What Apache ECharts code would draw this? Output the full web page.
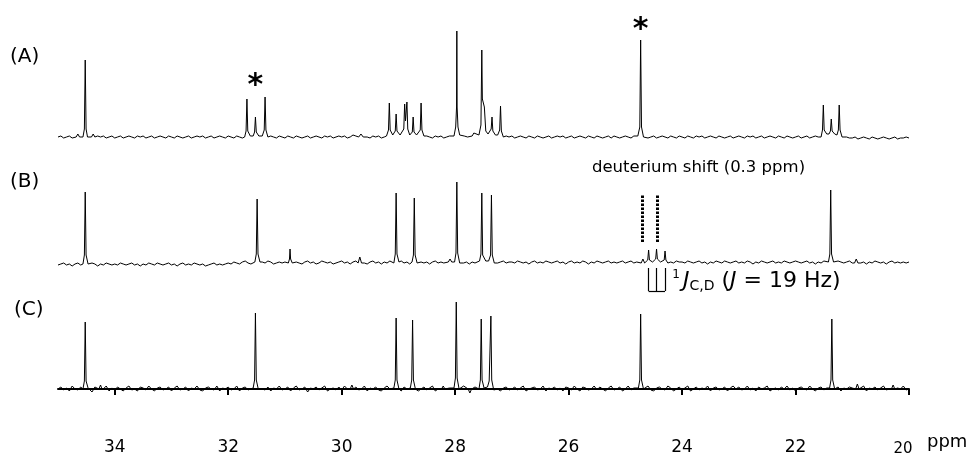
<!DOCTYPE html>
<html><head><meta charset="utf-8">
<script src="https://cdn.jsdelivr.net/npm/echarts@6/dist/echarts.min.js"></script>
<style>html,body{margin:0;padding:0;background:#fff}#c{width:977px;height:464px}</style>
</head><body><div id="c"></div>
<script>
// ---- data ----
const ppmMin = 20, ppmMax = 35;
const xTicks = [34, 32, 30, 28, 26, 24, 22, 20];
const axisUnit = 'ppm';
const noiseStart = 35, noiseStep = 0.05;
// baseline noise (one value every 0.05 ppm from 35 to 20)
const noiseA = [
  0,1,-1,0,1,-1,1,0,2,0,-1,1,0,-1,1,0,1,-1,0,1,
  -1,0,1,-1,0,1,0,-1,1,0,1,-1,0,1,-1,0,1,0,-1,1,
  0,-1,1,0,-1,0,1,-1,0,1,0,1,-1,0,1,-1,0,1,0,-1,
  1,0,-1,1,0,-1,0,1,-1,1,0,2,1,0,-1,1,0,-1,1,0,
  -1,1,0,-1,1,0,-1,0,1,-1,0,1,0,-1,1,0,1,-1,0,1,
  0,1,-1,0,2,1,0,-1,1,0,-1,1,0,1,-1,0,1,0,-1,1,
  0,-1,1,0,1,-1,0,1,-1,0,1,0,-1,1,0,1,-1,0,1,0,
  -1,1,0,-1,0,1,-1,1,0,-1,1,0,1,-1,0,1,0,-1,1,0,
  1,-1,0,1,0,-1,1,0,-1,1,0,-1,0,1,-1,0,1,0,1,-1,
  0,1,-1,0,1,0,-1,1,0,-1,1,0,-1,0,1,-1,1,0,-1,0,
  1,0,-1,1,0,-1,0,1,-1,0,1,-1,0,1,0,-1,1,0,-1,1,
  0,-1,1,0,-1,1,0,1,-1,0,1,0,-1,1,0,-1,0,1,-1,0,
  1,0,-1,1,0,1,-1,0,1,-1,0,1,0,-1,1,0,-1,1,0,-1,
  0,1,-1,0,1,-1,0,1,0,-1,0,-1,1,0,-1,0,1,-1,0,-1,
  -1,0,-2,-1,0,-1,-2,0,-1,-2,-1,0,-1,-2,-1,0,-2,-1,-1,0,
  -1];
const noiseB = [
  -2,-1,0,-2,-1,-3,-1,0,-2,-1,-1,-2,0,-1,-3,-1,-2,0,-1,-2,
  -1,-2,0,-1,-2,-1,0,-2,-1,-3,-1,-2,0,-1,-2,0,-1,-2,-1,0,
  -2,-1,-3,-1,0,-2,-1,-2,0,-1,-2,-1,-3,-2,-1,0,-2,-1,-2,-1,
  0,-1,1,0,-1,1,2,0,-1,1,0,-1,1,0,2,1,-1,0,1,0,
  1,0,2,-1,1,0,-1,1,2,0,1,-1,0,2,1,0,1,-1,0,1,
  2,0,1,-1,1,2,0,1,0,-1,1,2,0,1,-1,1,0,2,1,0,
  1,2,0,1,-1,1,0,2,1,0,1,-1,1,2,0,1,0,1,2,0,
  0,1,2,0,1,-1,1,0,2,1,0,2,1,-1,1,0,1,2,0,1,
  1,0,2,1,0,1,-1,1,2,0,1,0,2,1,0,1,2,0,1,-1,
  1,2,0,1,0,2,1,-1,1,0,2,1,0,1,2,0,1,0,1,2,
  0,1,2,0,1,-1,1,2,0,1,0,1,2,0,1,-1,1,0,2,1,
  1,0,2,1,0,1,2,0,1,-1,1,0,2,1,0,2,1,0,1,2,
  0,1,0,2,1,-1,1,0,2,1,0,1,2,0,1,0,2,1,0,1,
  2,1,0,1,2,0,1,-1,1,0,2,1,0,1,0,2,1,0,1,2,
  0,1,2,0,1,-1,1,0,2,1,0,1,-1,1,2,0,1,0,1,0,
  1];
const noiseC = [
  0,2,-1,1,-2,3,0,-1,2,-2,1,0,-3,2,1,-1,0,3,-2,1,
  -1,2,0,-2,1,3,-1,0,-2,2,1,-1,3,0,-2,1,2,-1,0,2,
  -2,1,3,-1,0,2,-2,1,0,3,-1,-2,1,2,0,-1,3,-2,1,0,
  2,-1,0,3,-2,1,2,-1,0,-2,1,3,0,-1,2,-2,1,0,3,-1,
  0,2,-2,1,3,-1,0,2,-3,1,0,2,-1,1,3,-2,0,1,-1,2,
  -1,3,0,-2,1,2,-1,0,3,-2,1,0,2,-1,-2,1,3,0,-1,2,
  1,-2,2,0,-1,3,1,-2,0,2,-1,1,3,-2,0,1,2,-3,1,0,
  2,-1,0,3,-2,1,0,2,-1,-3,1,2,0,-1,3,0,-2,1,2,-1,
  0,2,-1,1,3,-2,0,1,2,-1,0,3,-2,1,0,2,-1,1,-2,2,
  1,-1,3,0,-2,2,1,-1,0,3,-1,2,0,-2,1,3,-1,0,2,-2,
  0,3,-1,1,-2,2,0,1,3,-1,-2,1,2,0,-1,3,1,-2,0,2,
  -1,1,3,-2,0,2,-1,1,0,3,-2,1,2,-1,0,2,-2,1,3,0,
  2,-1,0,3,-1,1,-2,2,0,1,3,-2,0,1,-1,2,0,3,-1,1,
  -2,1,2,0,-1,3,0,-2,1,2,-1,1,3,-1,0,2,-2,1,0,2,
  1,-1,2,0,3,-2,1,0,2,-1,1,3,-1,0,2,-2,1,0,3,-1,
  0];
// peak outlines [ppm, intensity]
const peaksA = [
  [34.68,0],[34.65,3],[34.62,0],
  [34.56,0],[34.535,8],[34.52,77],[34.505,8],[34.48,0],
  [34.41,0],[34.38,3],[34.35,0],
  [31.71,0],[31.685,6],[31.67,38],[31.655,6],[31.61,1],
  [31.56,1],[31.535,5],[31.52,20],[31.505,5],[31.46,1],
  [31.40,1],[31.365,7],[31.35,40],[31.335,7],[31.30,0],
  [29.70,0],[29.66,3],[29.62,0],
  [29.21,1],[29.175,7],[29.16,34],[29.145,7],[29.10,2],
  [29.08,2],[29.055,6],[29.04,23],[29.025,6],[28.97,2],
  [28.94,2],[28.905,8],[28.89,33],[28.875,16],[28.865,18],[28.85,35],[28.835,8],[28.80,2],
  [28.78,2],[28.755,5],[28.74,20],[28.725,5],[28.68,2],
  [28.65,1],[28.615,7],[28.60,34],[28.585,7],[28.55,1],
  [28.02,1],[27.99,10],[27.975,30],[27.97,106],[27.965,30],[27.95,10],[27.92,2],
  [27.84,1],[27.81,3],[27.78,0],
  [27.70,1],[27.67,4],[27.64,2],
  [27.58,2],[27.545,12],[27.53,87],[27.52,38],[27.50,36],[27.485,30],[27.46,6],[27.42,3],
  [27.39,5],[27.365,8],[27.35,20],[27.335,6],[27.29,2],
  [27.25,2],[27.215,7],[27.20,31],[27.185,6],[27.15,0],
  [24.78,1],[24.745,10],[24.73,97],[24.715,10],[24.68,0],
  [21.55,0],[21.525,7],[21.51,32],[21.495,7],[21.45,3],
  [21.41,3],[21.385,6],[21.37,18],[21.355,6],[21.31,3],
  [21.27,2],[21.245,7],[21.23,32],[21.215,7],[21.18,0]
];
const peaksB = [
  [34.56,-1],[34.535,8],[34.52,71],[34.505,8],[34.47,-1],
  [31.53,1],[31.505,9],[31.49,64],[31.475,9],[31.44,1],
  [30.94,0],[30.92,4],[30.91,14],[30.90,4],[30.87,0],
  [29.71,0],[29.68,6],[29.65,0],
  [29.08,0],[29.055,9],[29.04,70],[29.025,9],[28.99,1],
  [28.76,1],[28.735,8],[28.72,65],[28.705,8],[28.67,0],
  [28.12,1],[28.09,4],[28.06,1],
  [28.01,1],[27.985,10],[27.97,81],[27.955,10],[27.92,0],
  [27.57,2],[27.545,9],[27.53,70],[27.515,8],[27.46,2],
  [27.41,2],[27.375,8],[27.36,68],[27.345,8],[27.31,0],
  [24.72,0],[24.69,4],[24.66,0],
  [24.63,0],[24.605,3],[24.59,13],[24.575,3],[24.52,1],
  [24.465,4],[24.45,14],[24.435,4],[24.38,1],
  [24.315,3],[24.30,12],[24.285,3],[24.25,0],
  [21.42,1],[21.395,9],[21.38,73],[21.365,9],[21.33,1],
  [20.96,0],[20.93,4],[20.90,0]
];
const peaksC = [
  [34.56,0],[34.535,8],[34.52,67],[34.505,8],[34.47,1],
  [34.28,0],[34.25,4],[34.22,-1],
  [31.56,1],[31.535,9],[31.52,76],[31.505,9],[31.47,0],
  [29.85,0],[29.82,4],[29.79,0],
  [29.08,1],[29.055,9],[29.04,71],[29.025,9],[28.99,0],
  [28.79,1],[28.765,9],[28.75,69],[28.735,9],[28.70,0],
  [28.24,0],[28.21,3],[28.18,0],
  [28.02,1],[27.995,11],[27.98,87],[27.965,11],[27.93,0],
  [27.77,0],[27.74,-4],[27.71,0],
  [27.58,0],[27.555,9],[27.54,70],[27.525,9],[27.49,1],
  [27.43,2],[27.40,8],[27.385,10],[27.37,73],[27.355,9],[27.32,-1],
  [24.77,1],[24.745,9],[24.73,75],[24.715,9],[24.68,0],
  [21.40,1],[21.375,9],[21.36,70],[21.345,9],[21.31,0],
  [20.94,0],[20.91,5],[20.88,0],
  [20.31,0],[20.28,4],[20.25,0]
];
// annotations (ppm, intensity)
const asteriskMarks = [[31.52, 59], [24.73, 115]];
const shiftLines = [24.70, 24.43];
const shiftLineRange = [21, 69];
const couplingPeaks = [24.59, 24.45, 24.30];
const couplingRange = [-5, -28];
const shiftLabel = [23.71, 95];
const couplingLabel = [24.18, -18];
const panelLabels = ['(A)', '(B)', '(C)'];

function build(noise, peaks) {
  const pts = [];
  noise.forEach((v, i) => {
    const x = +(noiseStart - i * noiseStep).toFixed(3);
    if (!peaks.some(p => Math.abs(p[0] - x) < 0.035)) pts.push([x, v]);
  });
  peaks.forEach(p => pts.push(p));
  pts.sort((a, b) => b[0] - a[0]);
  return pts;
}

const FONT = 'DejaVu Sans';
const chart = echarts.init(document.getElementById('c'), null, {renderer: 'canvas'});
const hiddenX = g => ({gridIndex: g, type: 'value', min: ppmMin, max: ppmMax, inverse: true, show: false});
const hiddenY = (g, mn) => ({gridIndex: g, type: 'value', min: mn, max: 120, show: false});
const lineStyle = {color: '#000', width: 1};
const txtMark = (coord, text, pos, style) => ({
  coord, symbol: 'rect', symbolSize: 1, itemStyle: {color: 'rgba(0,0,0,0)'},
  label: Object.assign({show: true, position: pos, distance: 0, formatter: text, color: '#000', fontFamily: FONT}, style)
});

const bracket = couplingPeaks.map(p => [{coord: [p, couplingRange[0]], lineStyle: {type: 'solid', width: 1.2}}, {coord: [p, couplingRange[1]]}]);
bracket.push([{coord: [couplingPeaks[0], couplingRange[1]], lineStyle: {type: 'solid', width: 1.2}}, {coord: [couplingPeaks[couplingPeaks.length - 1], couplingRange[1]]}]);

const option = {
  animation: false,
  backgroundColor: '#fff',
  grid: [
    {left: 58, right: 68, top: 17, height: 160},
    {left: 58, right: 68, top: 143, height: 160},
    {left: 58, right: 68, top: 269, height: 156}
  ],
  xAxis: [hiddenX(0), hiddenX(1), {
    gridIndex: 2, type: 'value', min: ppmMin, max: ppmMax, inverse: true,
    axisLine: {lineStyle: {color: '#000', width: 2}},
    axisTick: {show: true, inside: false, length: 6, lineStyle: {color: '#000', width: 2}, customValues: xTicks},
    axisLabel: {customValues: xTicks, margin: 14, color: '#000', fontFamily: FONT, fontSize: 17,
      formatter: v => v === 20 ? '{s|20}' : String(v),
      rich: {s: {fontSize: 15, fontFamily: FONT, color: '#000', padding: [3, 12, 0, 0]}}},
    splitLine: {show: false}
  }],
  yAxis: [hiddenY(0, -40), hiddenY(1, -40), hiddenY(2, -36)],
  graphic: [
    {type: 'text', left: 10, top: 47, style: {text: panelLabels[0], font: '20px "DejaVu Sans"', fill: '#000'}},
    {type: 'text', left: 10, top: 172, style: {text: panelLabels[1], font: '20px "DejaVu Sans"', fill: '#000'}},
    {type: 'text', left: 14, top: 300, style: {text: panelLabels[2], font: '20px "DejaVu Sans"', fill: '#000'}},
    {type: 'text', x: 927, y: 442, style: {text: axisUnit, font: '18px "DejaVu Sans"', fill: '#000', align: 'left', verticalAlign: 'middle'}}
  ],
  series: [
    {type: 'line', xAxisIndex: 0, yAxisIndex: 0, data: build(noiseA, peaksA), showSymbol: false, lineStyle, silent: true,
      markPoint: {silent: true, data: asteriskMarks.map(c => txtMark(c, '*', 'inside', {fontSize: 30, fontWeight: 'bold', offset: [0, 8]}))}},
    {type: 'line', xAxisIndex: 1, yAxisIndex: 1, data: build(noiseB, peaksB), showSymbol: false, lineStyle, silent: true,
      markLine: {silent: true, symbol: 'none', label: {show: false},
        lineStyle: {color: '#000', width: 3, type: [2.5, 1.5]},
        data: shiftLines.map(p => [{coord: [p, shiftLineRange[0]]}, {coord: [p, shiftLineRange[1]]}]).concat(bracket)},
      markPoint: {silent: true, data: [
        txtMark(shiftLabel, 'deuterium shift (0.3 ppm)', 'inside', {fontSize: 16.5}),
        txtMark(couplingLabel, '{sup|1}{it|J}{sub|C,D}{n| (}{it|J}{n| = 19 Hz)}', 'right', {
          fontSize: 22,
          rich: {
            sup: {fontSize: 12, fontFamily: FONT, color: '#000', padding: [0, 3, 12, 0]},
            it: {fontSize: 22, fontFamily: FONT, fontStyle: 'italic', color: '#000'},
            sub: {fontSize: 14, fontFamily: FONT, color: '#000', padding: [10, 0, 0, 0]},
            n: {fontSize: 22, fontFamily: FONT, color: '#000'}
          }
        })
      ]}},
    {type: 'line', xAxisIndex: 2, yAxisIndex: 2, data: build(noiseC, peaksC), showSymbol: false, lineStyle, silent: true}
  ]
};
chart.setOption(option);
</script></body></html>
